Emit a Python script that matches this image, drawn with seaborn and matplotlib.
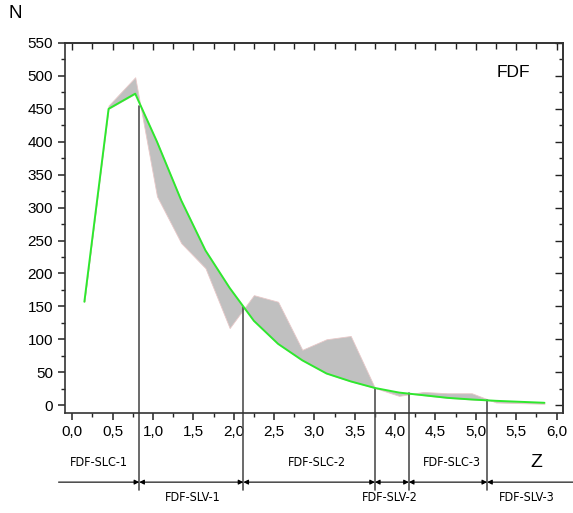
import matplotlib
matplotlib.use("Agg")
import matplotlib.pyplot as plt
import seaborn as sns
import pandas as pd
from matplotlib.ticker import MultipleLocator

# ---- data ----
z = [0.15, 0.45, 0.78, 1.05, 1.35, 1.65, 1.95, 2.25, 2.55, 2.85,
     3.15, 3.45, 3.75, 4.05, 4.35, 4.65, 4.95, 5.25, 5.55, 5.85]
n_fit = [157, 450, 473, 400, 311, 235, 178, 128, 93, 68,
         48, 36, 26, 19, 15, 11, 8.5, 6.5, 5, 3.5]
n_obs = [157, 455, 498, 317, 246, 208, 117, 167, 157, 84,
         100, 105, 26, 14, 20, 18, 18, 4, 3, 2]
boundaries = [0.83, 2.12, 3.75, 4.17, 5.14]
boundary_n = [455, 149, 26, 18, 8]
slc_labels = ["FDF-SLC-1", "FDF-SLC-2", "FDF-SLC-3"]
slc_x = [0.33, 3.03, 4.70]
slv_labels = ["FDF-SLV-1", "FDF-SLV-2", "FDF-SLV-3"]
slv_x = [1.49, 3.94, 5.63]
xticks = [0.0, 0.5, 1.0, 1.5, 2.0, 2.5, 3.0, 3.5, 4.0, 4.5, 5.0, 5.5, 6.0]
xtick_labels = ["0,0", "0,5", "1,0", "1,5", "2,0", "2,5", "3,0", "3,5",
                "4,0", "4,5", "5,0", "5,5", "6,0"]
yticks = [0, 50, 100, 150, 200, 250, 300, 350, 400, 450, 500, 550]

sns.set_style("ticks")
plt.rcParams['font.family'] = ['Liberation Sans', 'DejaVu Sans']
plt.rcParams['text.color'] = 'black'
plt.rcParams['xtick.color'] = '#222222'
plt.rcParams['ytick.color'] = '#222222'
plt.rcParams['xtick.labelcolor'] = 'black'
plt.rcParams['ytick.labelcolor'] = 'black'

fig = plt.figure(figsize=(5.73, 5.13), dpi=100)
ax = fig.add_axes([65/573, 1-413/513, (563-65)/573, (413-43)/513])

df = pd.DataFrame({"Z": z, "fit": n_fit, "obs": n_obs})

ax.fill_between(df["Z"], df["obs"], df["fit"], color="#c0c0c0",
                edgecolor="#e8c8c8", linewidth=0.6, zorder=1)
sns.lineplot(data=df, x="Z", y="fit", ax=ax, color="#2ee82e",
             linewidth=1.4, zorder=3)

# vertical boundary lines extending below axes
ybot = -129
for bx, by in zip(boundaries, boundary_n):
    ax.plot([bx, bx], [by, ybot], color="#505050", linewidth=1.2,
            clip_on=False, zorder=2)

# arrows
yarr = -117
segs = [-0.17] + boundaries + [6.25]
for i in range(len(segs) - 1):
    a, b = segs[i], segs[i + 1]
    if i == 0:
        style = "-|>"
    elif i == len(segs) - 2:
        style = "<|-"
    else:
        style = "<|-|>"
    ax.annotate("", xy=(b, yarr), xytext=(a, yarr), xycoords="data",
                textcoords="data", annotation_clip=False,
                arrowprops=dict(arrowstyle=style, color="black", lw=0.8,
                                mutation_scale=7, shrinkA=0, shrinkB=0))

lab_font = ['DejaVu Sans', 'Liberation Sans']
for t, x in zip(slc_labels, slc_x):
    ax.text(x, -87, t, ha="center", va="center", fontsize=9,
            family=lab_font, stretch="condensed", clip_on=False)
for t, x in zip(slv_labels, slv_x):
    ax.text(x, -141, t, ha="center", va="center", fontsize=9,
            family=lab_font, stretch="condensed", clip_on=False)
ax.text(5.75, -87, "Z", ha="center", va="center", fontsize=14, clip_on=False)
ax.text(5.46, 505, "FDF", ha="center", va="center", fontsize=12.5)
fig.text(15/573, 1-14/513, "N", ha="center", va="center", fontsize=13.5)

ax.set_xlim(-0.09, 6.08)
ax.set_ylim(-12, 550)
ax.set_xticks(xticks)
ax.set_xticklabels(xtick_labels)
ax.xaxis.set_minor_locator(MultipleLocator(0.25))
ax.set_yticks(yticks)
ax.yaxis.set_minor_locator(MultipleLocator(25))
ax.set_xlabel("")
ax.set_ylabel("")

for s in ax.spines.values():
    s.set_visible(True)
    s.set_linewidth(1.2)
    s.set_color("#333333")

ax.tick_params(axis="both", which="major", labelsize=11, width=1.1,
               length=5)
ax.tick_params(axis="both", which="minor", width=1.0, length=3)
ax.tick_params(axis="both", which="both", direction="out",
               top=False, right=False)

# top and right inward ticks via secondary axes
secx = ax.secondary_xaxis("top")
secx.set_xticks(xticks)
secx.xaxis.set_minor_locator(MultipleLocator(0.25))
secx.tick_params(which="both", direction="in", labeltop=False, width=1.0)
secx.tick_params(which="major", length=5)
secx.tick_params(which="minor", length=4)
secx.spines["top"].set_linewidth(1.2)
secx.spines["top"].set_color("#333333")
secy = ax.secondary_yaxis("right")
secy.set_yticks(yticks)
secy.yaxis.set_minor_locator(MultipleLocator(25))
secy.tick_params(which="both", direction="in", labelright=False, width=1.0)
secy.tick_params(which="major", length=6)
secy.tick_params(which="minor", length=3)
secy.spines["right"].set_linewidth(1.2)
secy.spines["right"].set_color("#333333")

fig.savefig("out.png", dpi=100)
